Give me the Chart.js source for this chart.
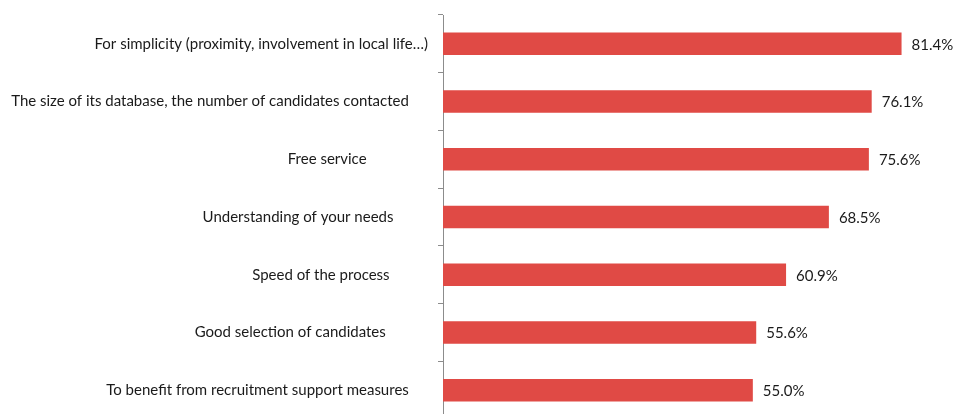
<!DOCTYPE html>
<html>
<head>
<meta charset="utf-8">
<script src="https://cdn.jsdelivr.net/npm/chart.js@4/dist/chart.umd.min.js"></script>
<style>
  html, body { margin: 0; padding: 0; background: #fff; overflow: hidden; }
  #wrap { position: relative; width: 954px; height: 419px; }
</style>
</head>
<body>
<div id="wrap"><canvas id="chart"></canvas></div>
<script>
// categories carry trailing spaces, as in the source sheet, which shift them off the axis
const categories = [
  "For simplicity (proximity, involvement in local life\u2026)",
  "The size of its database, the number of candidates contacted     ",
  "Free service                ",
  "Understanding of your needs         ",
  "Speed of the process          ",
  "Good selection of candidates           ",
  "To benefit from recruitment support measures     "
];
const shares = [81.4, 76.1, 75.6, 68.5, 60.9, 55.6, 55.0];

const FONT = "Lato, 'Open Sans', sans-serif";

// draws "81.4%" etc. right of each bar end
const valueLabels = {
  id: "valueLabels",
  afterDatasetsDraw(chart) {
    const ctx = chart.ctx;
    const meta = chart.getDatasetMeta(0);
    ctx.save();
    ctx.font = "15px " + FONT;
    ctx.fillStyle = "#1a1a1a";
    ctx.textAlign = "left";
    ctx.textBaseline = "middle";
    meta.data.forEach((bar, i) => {
      ctx.fillText(shares[i].toFixed(1) + "%", bar.x + 10, bar.y + 1);
    });
    ctx.restore();
  }
};

new Chart(document.getElementById("chart"), {
  type: "bar",
  data: {
    labels: categories,
    datasets: [{
      data: shares,
      backgroundColor: "#E04A45",
      borderWidth: 0,
      barPercentage: 0.39,
      categoryPercentage: 1
    }]
  },
  options: {
    indexAxis: "y",
    responsive: true,
    maintainAspectRatio: false,
    animation: false,
    events: [],
    layout: { padding: { top: 15, right: 4, bottom: 0, left: 0 } },
    plugins: { legend: { display: false }, tooltip: { enabled: false } },
    scales: {
      x: { display: false, min: 0, max: 90 },
      y: {
        afterFit(scale) {
          scale.width = 443;
          scale.paddingTop = 0;
          scale.paddingBottom = 0;
        },
        grid: {
          drawOnChartArea: false,
          drawTicks: true,
          tickLength: 5,
          color: "#8c8c8c",
          offset: true
        },
        border: { display: true, color: "#8c8c8c", width: 1 },
        ticks: {
          padding: 10,
          color: "#1a1a1a",
          font: { family: FONT, size: 15 }
        }
      }
    }
  },
  plugins: [valueLabels]
});
</script>
</body>
</html>
